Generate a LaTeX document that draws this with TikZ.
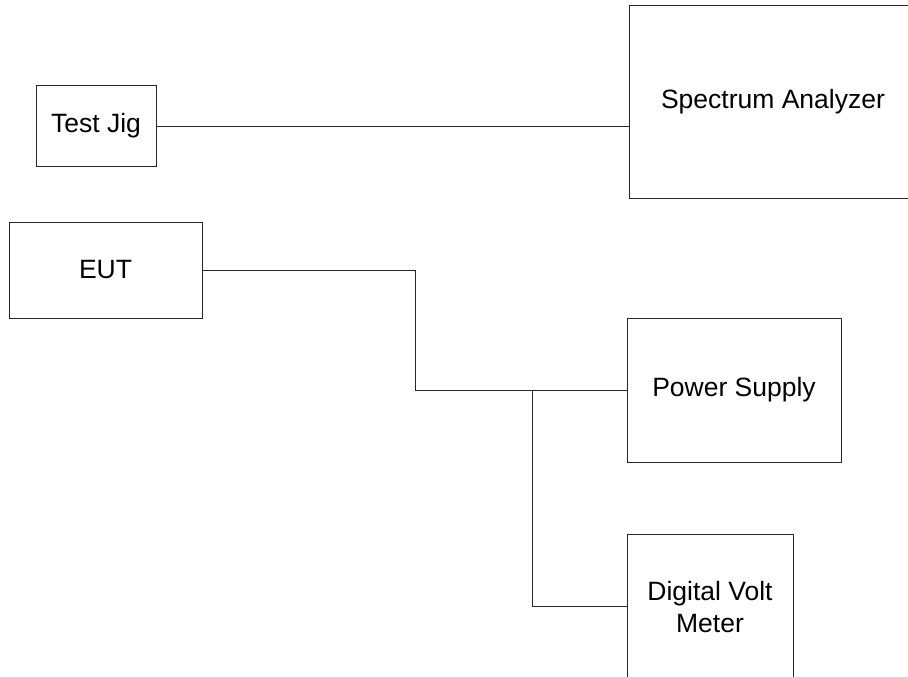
\documentclass[tikz,border=0pt]{standalone}
\usepackage{fontspec}
\setmainfont{Liberation Sans}
\tikzset{
  box/.style={draw=black!85, line width=1pt, rectangle, inner sep=0pt, align=center,
    font=\fontsize{26.5}{32}\selectfont},
  wire/.style={draw=black!85, line width=1pt}
}
\begin{document}
\begin{tikzpicture}[x=1pt,y=-1pt]
\useasboundingbox (0,0) rectangle (908,677);
\clip (0,0) rectangle (908,677);
\node[box, minimum width=120pt, minimum height=80pt] (tj) at (96,126) {Test Jig};
\node[box, minimum width=288pt, minimum height=192pt] (sa) at (773,102) {Spectrum Analyzer};
\node[box, minimum width=193pt, minimum height=96pt] (eut) at (105.5,270) {EUT};
\node[box, minimum width=214pt, minimum height=144pt] (ps) at (734,390) {Power Supply};
\node[box, minimum width=166pt, minimum height=146pt] (dvm) at (710,607) {Digital Volt\\Meter};
\draw[wire] (tj.east) -- (tj.east -| sa.west);
\coordinate (b1) at (415.7,270);
\coordinate (j) at (532,390);
\coordinate (k) at (532,606);
\draw[wire] (eut.east) -- (b1) -- (b1 |- ps.west) -- (ps.west);
\draw[wire] (j) -- (k) -- (k -| dvm.west);
\end{tikzpicture}
\end{document}
